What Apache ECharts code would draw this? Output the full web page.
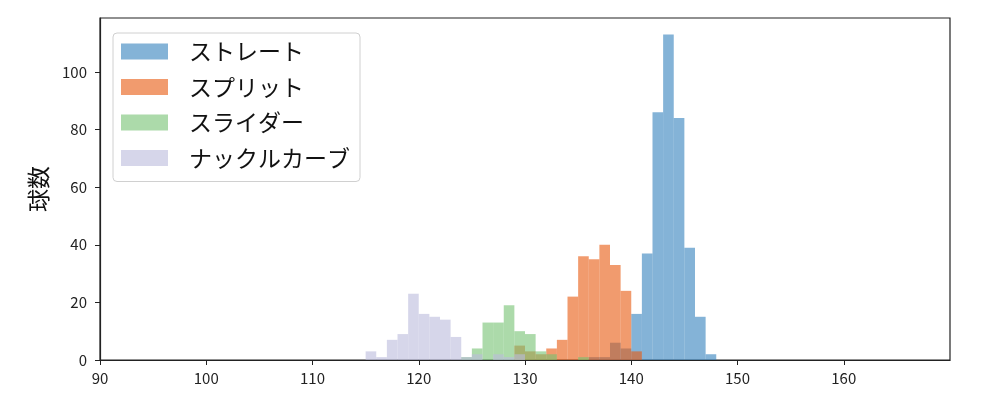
<!DOCTYPE html>
<html>
<head>
<meta charset="utf-8">
<script src="https://cdn.jsdelivr.net/npm/echarts@6/dist/echarts.min.js"></script>
<style>
  html, body { margin: 0; padding: 0; background: #fff; }
  #chart { width: 1000px; height: 400px; }
</style>
</head>
<body>
<div id="chart"></div>
<script>
// histogram of pitch speeds (km/h), bins of width 1
var seriesNames = ["ストレート", "スプリット", "スライダー", "ナックルカーブ"];
var seriesColors = ["rgba(50,128,188,0.6)", "rgba(232,88,13,0.6)", "rgba(117,193,113,0.6)", "rgba(187,187,220,0.6)"];

var straightBins = [136, 137, 138, 139, 140, 141, 142, 143, 144, 145, 146, 147];
var straightCounts = [1, 1, 6, 4, 16, 37, 86, 113, 84, 39, 15, 2];

var splitBins = [129, 130, 131, 132, 133, 134, 135, 136, 137, 138, 139, 140];
var splitCounts = [5, 3, 2, 4, 7, 22, 36, 35, 40, 33, 24, 3];

var sliderBins = [124, 125, 126, 127, 128, 129, 130, 131, 132, 135];
var sliderCounts = [1, 4, 13, 13, 19, 10, 9, 3, 2, 1];

var knuckleBins = [115, 116, 117, 118, 119, 120, 121, 122, 123, 124, 125, 127, 128, 129];
var knuckleCounts = [3, 1, 7, 9, 23, 16, 15, 14, 8, 1, 2, 2, 1, 2];

var binWidth = 1;
var xTicks = [90, 100, 110, 120, 130, 140, 150, 160];
var yTicks = [0, 20, 40, 60, 80, 100];

function toData(bins, counts) {
  return bins.map(function (b, i) { return [b, b + binWidth, counts[i]]; });
}

function renderBar(params, api) {
  var p0 = api.coord([api.value(0), api.value(2)]);
  var p1 = api.coord([api.value(1), 0]);
  return {
    type: "rect",
    shape: { x: p0[0], y: p0[1], width: p1[0] - p0[0], height: p1[1] - p0[1] },
    style: { fill: api.visual("color") }
  };
}

var allData = [
  toData(straightBins, straightCounts),
  toData(splitBins, splitCounts),
  toData(sliderBins, sliderCounts),
  toData(knuckleBins, knuckleCounts)
];

var font = "'Noto Sans CJK JP', 'Noto Sans', sans-serif";
var chart = echarts.init(document.getElementById("chart"), null, { renderer: "canvas" });

chart.setOption({
  animation: false,
  backgroundColor: "#fff",
  textStyle: { fontFamily: font },
  grid: { left: 100, right: 50, top: 18, bottom: 40, show: true, borderColor: "#222", borderWidth: 1.2 },
  legend: {
    data: seriesNames.map(function (n) { return { name: n, icon: "rect" }; }),
    orient: "vertical",
    left: 113,
    top: 33,
    itemWidth: 47,
    itemHeight: 16,
    itemGap: 12.5,
    padding: [7, 10, 12, 8],
    backgroundColor: "rgba(255,255,255,0.8)",
    borderColor: "#d0d0d0",
    borderWidth: 1,
    borderRadius: 4,
    textStyle: { fontSize: 23, lineHeight: 23, color: "#111", fontFamily: font, padding: [0, 0, 0, 16] }
  },
  xAxis: {
    type: "value",
    min: 90,
    max: 170,
    interval: 10,
    z: 5,
    axisLine: { show: true, onZero: false, lineStyle: { color: "#222", width: 1.2 } },
    axisTick: { show: true, length: 5, lineStyle: { color: "#222" } },
    axisLabel: {
      fontSize: 15, color: "#222", margin: 11, fontFamily: font,
      showMaxLabel: false,
      formatter: function (v) { return xTicks.indexOf(v) >= 0 ? String(v) : ""; }
    },
    splitLine: { show: false }
  },
  yAxis: {
    type: "value",
    min: 0,
    max: 118.7,
    interval: 20,
    z: 5,
    name: "球数",
    nameLocation: "middle",
    nameRotate: 90,
    nameGap: 50,
    nameTextStyle: { fontSize: 23, color: "#111", fontFamily: font },
    axisLine: { show: true, lineStyle: { color: "#222", width: 1.2 } },
    axisTick: { show: true, length: 5, lineStyle: { color: "#222" } },
    axisLabel: {
      fontSize: 15, color: "#222", margin: 13, fontFamily: font,
      showMaxLabel: false,
      formatter: function (v) { return yTicks.indexOf(v) >= 0 ? String(v) : ""; }
    },
    splitLine: { show: false }
  },
  series: seriesNames.map(function (name, i) {
    return {
      name: name,
      type: "custom",
      renderItem: renderBar,
      clip: true,
      itemStyle: { color: seriesColors[i] },
      encode: { x: [0, 1], y: 2 },
      data: allData[i]
    };
  })
});
</script>
</body>
</html>
